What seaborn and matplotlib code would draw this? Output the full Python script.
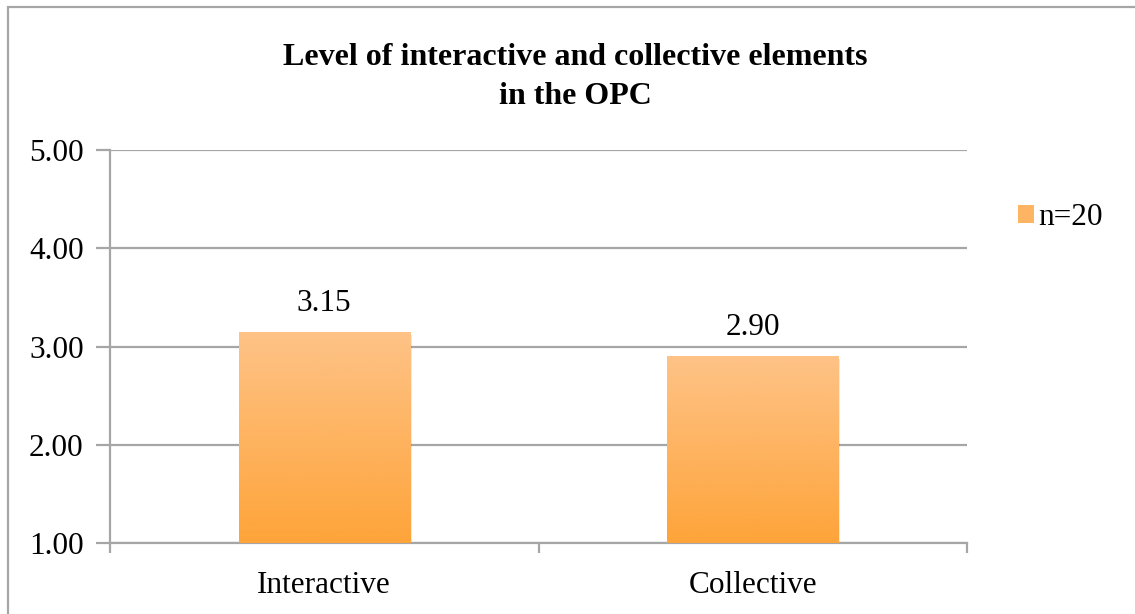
import numpy as np
import pandas as pd
import matplotlib
matplotlib.use("Agg")
import matplotlib.pyplot as plt
import seaborn as sns
from matplotlib.patches import Rectangle, Patch
from matplotlib.colors import LinearSegmentedColormap

# data
categories = ["Interactive", "Collective"]
scores = [3.15, 2.90]
series_name = "n=20"
y_ticks = [1.00, 2.00, 3.00, 4.00, 5.00]

df = pd.DataFrame({"category": categories, "score": scores})

sns.set_style("white")
plt.rcParams["font.family"] = ["Liberation Serif", "DejaVu Serif"]
plt.rcParams["text.color"] = "black"
plt.rcParams["xtick.color"] = "black"
plt.rcParams["ytick.color"] = "black"

fig = plt.figure(figsize=(11.35, 6.14), dpi=100)
ax = fig.add_axes([110 / 1135, 1 - 543 / 614, (967 - 110) / 1135, (543 - 150) / 614])

grid_col = "#a6a6a6"
top_col = "#fec387"
bot_col = "#fea43a"

sns.barplot(data=df, x="category", y="score", ax=ax, width=0.4,
            color=bot_col, edgecolor="none", saturation=1, zorder=3)

ax.set_ylim(1, 5)
ax.set_xlim(-0.5, 1.5)

# gradient fill + soft shadow for each bar
cmap = LinearSegmentedColormap.from_list("bar", [bot_col, top_col])
grad = np.linspace(0, 1, 256).reshape(-1, 1)
for bar in list(ax.patches):
    x0, y0 = bar.get_x(), bar.get_y()
    w, h = bar.get_width(), bar.get_height()
    sh = Rectangle((x0 + 0.004, 1), w, y0 + h - 1 - 0.03, facecolor="#000000",
                   alpha=0.08, edgecolor="none", zorder=2)
    ax.add_patch(sh)
    im = ax.imshow(grad, cmap=cmap, origin="lower", aspect="auto",
                   extent=[x0, x0 + w, 1, y0 + h], zorder=4)
    im.set_clip_path(bar)

ax.set_xlim(-0.5, 1.5)
ax.set_ylim(1, 5)

for c in ax.containers:
    ax.bar_label(c, labels=[f"{v:.2f}" for v in scores], padding=10, fontsize=22.5)

# axes styling
ax.set_yticks(y_ticks)
ax.set_yticklabels([f"{t:.2f}" for t in y_ticks])
ax.yaxis.grid(True, color=grid_col, linewidth=1.6, zorder=0)
ax.set_axisbelow(True)
ax.set_xticks([-0.5, 0.5, 1.5])
ax.set_xticklabels([])
ax.set_xticks([0, 1], minor=True)
ax.set_xticklabels(categories, minor=True)
ax.tick_params(axis="x", which="major", bottom=True, length=7, width=1.6,
               color=grid_col, direction="out")
ax.tick_params(axis="x", which="minor", bottom=False, length=0, pad=20, labelsize=22.5)
ax.tick_params(axis="y", left=True, length=10, width=1.6, color=grid_col,
               direction="out", pad=9, labelsize=22.5)
ax.set_xlabel("")
ax.set_ylabel("")
for s in ["top", "right"]:
    ax.spines[s].set_visible(False)
for s in ["left", "bottom"]:
    ax.spines[s].set_color(grid_col)
    ax.spines[s].set_linewidth(1.6)

# title
fig.text(0.507, 1 - 77 / 614, "Level of interactive and collective elements\nin the OPC",
         ha="center", va="center", fontsize=23, fontweight="bold", linespacing=1.45)

# legend
handle = Patch(facecolor="#fdb563", edgecolor="none", label=series_name)
fig.legend(handles=[handle], loc="center left", bbox_to_anchor=(1018 / 1135, 1 - 218 / 614),
           frameon=False, fontsize=22.5, handlelength=0.5, handleheight=0.5,
           handletextpad=0.15, borderaxespad=0, borderpad=0)

# outer chart border (cut off on right and bottom in the source)
fig.add_artist(Rectangle((8 / 1135, -0.1), 1.2, 1.1 - 7 / 614, transform=fig.transFigure,
                         fill=False, edgecolor=grid_col, linewidth=1.6))

fig.savefig("out.png", dpi=100)
